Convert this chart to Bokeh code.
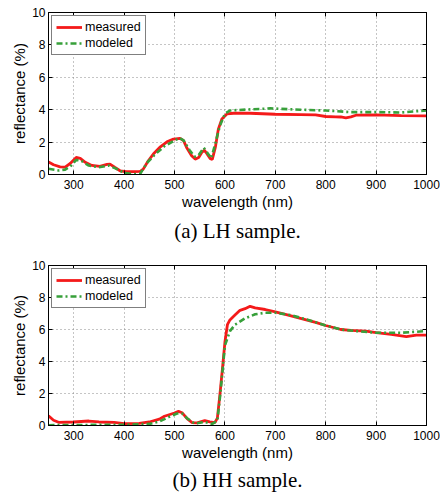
from bokeh.plotting import figure
from bokeh.models import (Range1d, LinearAxis, FixedTicker, CustomJSTickFormatter,
                          Legend, LegendItem, Title)
from bokeh.layouts import column
from bokeh.embed import file_html
from bokeh.resources import INLINE

# ---- data ----
lh_meas_x = [250, 260, 273, 283, 293, 305, 313, 323, 336, 352, 366, 372, 382, 392, 405, 420, 432, 438,
             448, 458, 472, 485, 498, 511, 518, 524, 534, 541, 548, 554, 559, 564, 571, 575, 581, 587,
             594, 604, 617, 650, 700, 750, 780, 800, 820, 830, 840, 850, 860, 900, 950, 1000]
lh_meas_y = [0.78, 0.6, 0.47, 0.46, 0.68, 1.05, 1.0, 0.75, 0.56, 0.5, 0.62, 0.64, 0.43, 0.23, 0.17, 0.18,
             0.19, 0.33, 0.85, 1.26, 1.71, 2.02, 2.19, 2.23, 2.09, 1.67, 1.16, 0.95, 1.05, 1.36, 1.5, 1.3,
             0.97, 0.93, 1.67, 2.8, 3.43, 3.74, 3.78, 3.78, 3.72, 3.7, 3.68, 3.58, 3.56, 3.55, 3.5, 3.56,
             3.66, 3.68, 3.64, 3.62]

lh_mod_x = [250, 270, 283, 295, 305, 315, 330, 350, 370, 385, 400, 420, 432, 445, 460, 480, 500, 510,
            518, 530, 540, 548, 558, 565, 573, 580, 590, 600, 610, 650, 690, 750, 800, 850, 900, 950, 1000]
lh_mod_y = [0.35, 0.25, 0.3, 0.55, 0.9, 0.85, 0.55, 0.45, 0.55, 0.35, 0.1, 0.02, 0.05, 0.7, 1.2, 1.75,
            2.1, 2.25, 2.1, 1.5, 1.1, 1.2, 1.65, 1.35, 1.0, 1.8, 3.0, 3.75, 3.95, 4.02, 4.08, 4.0, 3.95,
            3.85, 3.85, 3.83, 3.95]

hh_meas_x = [250, 260, 270, 300, 330, 350, 380, 400, 430, 450, 470, 480, 500, 508, 515, 525, 535, 545,
             560, 570, 580, 585, 590, 595, 600, 605, 610, 620, 630, 640, 650, 660, 680, 700, 720, 750,
             780, 800, 830, 850, 880, 900, 930, 960, 980, 1000]
hh_meas_y = [0.6, 0.33, 0.2, 0.22, 0.28, 0.22, 0.2, 0.12, 0.13, 0.22, 0.4, 0.58, 0.78, 0.88, 0.8, 0.43,
             0.18, 0.16, 0.3, 0.22, 0.18, 0.45, 1.9, 3.5, 5.2, 6.3, 6.6, 6.9, 7.2, 7.3, 7.45, 7.35, 7.25,
             7.1, 6.95, 6.7, 6.45, 6.25, 6.0, 5.95, 5.9, 5.8, 5.7, 5.55, 5.65, 5.65]

hh_mod_x = [250, 300, 400, 450, 470, 490, 505, 515, 525, 540, 560, 575, 585, 590, 595, 600, 610, 620,
            640, 660, 680, 700, 730, 760, 800, 830, 860, 900, 950, 1000]
hh_mod_y = [0.02, 0.03, 0.05, 0.1, 0.25, 0.55, 0.75, 0.75, 0.45, 0.12, 0.22, 0.1, 0.3, 1.7, 3.3, 5.0,
            5.9, 6.3, 6.7, 6.95, 7.05, 7.05, 6.9, 6.65, 6.25, 6.0, 5.9, 5.8, 5.8, 5.9]

x_ticks = [300, 400, 500, 600, 700, 800, 900, 1000]
y_ticks = [0, 2, 4, 6, 8, 10]
x_label = "wavelength (nm)"
y_label = "reflectance (%)"
series_names = ["measured", "modeled"]
captions = ["(a) LH sample.", "(b) HH sample."]

RED = "#f41a1a"
GREEN = "#37a03a"
SANS = "Liberation Sans"
SERIF = "Liberation Serif"


def make_panel(mx, my, gx, gy, caption, height, top, bottom, cap_standoff):
    p = figure(width=440, height=height, output_backend="svg", toolbar_location=None,
               x_range=Range1d(250, 1000), y_range=Range1d(0, 10),
               min_border_left=48, min_border_right=14, min_border_top=top,
               min_border_bottom=bottom, background_fill_color="white",
               border_fill_color="white")
    p.outline_line_color = "black"
    p.outline_line_width = 1

    for ax, tk in ((p.xaxis[0], x_ticks), (p.yaxis[0], y_ticks)):
        ax.ticker = FixedTicker(ticks=tk)
        ax.major_tick_in = 4
        ax.major_tick_out = 0
        ax.minor_tick_line_color = None
        ax.axis_line_color = "black"
        ax.major_tick_line_color = "black"
        ax.major_label_text_font = SANS
        ax.major_label_text_font_size = "12px"
        ax.major_label_text_color = "black"
        ax.axis_label_text_font = SANS
        ax.axis_label_text_font_size = "15px"
        ax.axis_label_text_font_style = "normal"
        ax.axis_label_text_color = "black"
    p.xaxis[0].axis_label = x_label
    p.yaxis[0].axis_label = y_label
    p.xaxis[0].major_label_standoff = 5
    p.xaxis[0].axis_label_standoff = 1
    p.yaxis[0].major_label_standoff = 3
    p.yaxis[0].axis_label_standoff = 1

    blank = CustomJSTickFormatter(code="return ''")
    for side, tk in (("above", x_ticks), ("right", y_ticks)):
        ax = LinearAxis(ticker=FixedTicker(ticks=tk), formatter=blank,
                        major_tick_in=4, major_tick_out=0, minor_tick_line_color=None,
                        axis_line_color="black", major_label_standoff=0,
                        major_label_text_font_size="1px")
        p.add_layout(ax, side)

    for g in (p.xgrid[0], p.ygrid[0]):
        g.grid_line_color = "#8a8a8a"
        g.grid_line_dash = "1 3"
        g.grid_line_width = 1
    p.xgrid[0].ticker = FixedTicker(ticks=x_ticks)
    p.ygrid[0].ticker = FixedTicker(ticks=y_ticks)

    r1 = p.line(mx, my, line_color=RED, line_width=2.8)
    r2 = p.line(gx, gy, line_color=GREEN, line_width=2.6, line_dash="6 3 2 3")

    leg = Legend(items=[LegendItem(label=series_names[0], renderers=[r1]),
                        LegendItem(label=series_names[1], renderers=[r2])],
                 location="top_left", margin=3, padding=4, spacing=2,
                 glyph_width=26, glyph_height=14, label_height=14, label_standoff=3,
                 label_text_font=SANS, label_text_font_size="12.5px",
                 label_text_color="black", border_line_color="black",
                 border_line_width=1, background_fill_alpha=1)
    p.add_layout(leg, "center")

    t = Title(text=caption, align="center", text_font=SERIF, text_font_size="21px",
              text_font_style="normal", text_color="black", standoff=cap_standoff)
    p.add_layout(t, "below")
    return p


p1 = make_panel(lh_meas_x, lh_meas_y, lh_mod_x, lh_mod_y, captions[0], 250, 12, 76, 8)
p2 = make_panel(hh_meas_x, hh_meas_y, hh_mod_x, hh_mod_y, captions[1], 244, 15, 67, 5)

layout = column(p1, p2, spacing=0)
open("out.html", "w").write(file_html(layout, INLINE))
